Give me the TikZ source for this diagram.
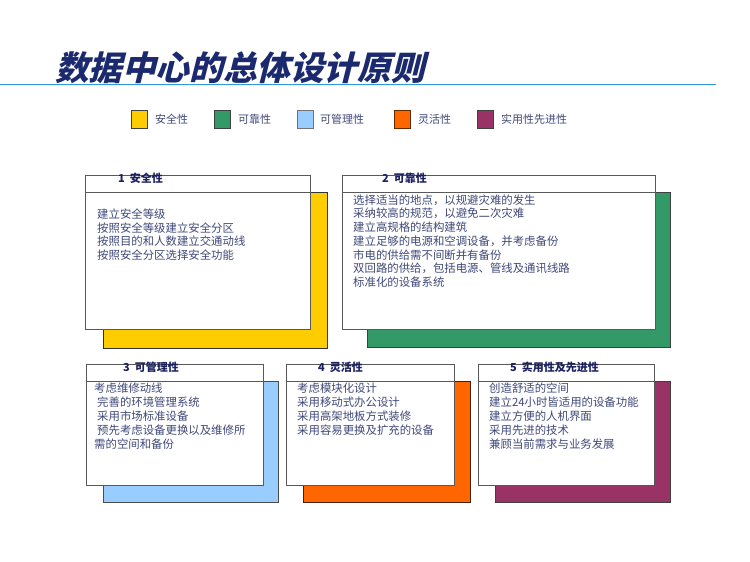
\documentclass[tikz,border=0pt]{standalone}
\usepackage{fontspec}
\newfontfamily\cjk{Noto Sans CJK SC}
\newfontfamily\titlefont[FakeSlant=0.25]{Noto Sans CJK SC}
\definecolor{titleblue}{HTML}{1B2A6E}
\definecolor{lineblue}{HTML}{2B9BD8}
\definecolor{bodytext}{HTML}{404878}
\definecolor{headtext}{HTML}{1A2060}
\definecolor{cyellow}{HTML}{FFCC00}
\definecolor{cgreen}{HTML}{339966}
\definecolor{cblue}{HTML}{99CCFF}
\definecolor{corange}{HTML}{FF6600}
\definecolor{cpurple}{HTML}{993366}
\tikzset{
  body/.style={anchor=west,inner sep=0pt,text=bodytext,font=\cjk\fontsize{11.4}{13}\selectfont},
  head/.style={anchor=west,inner sep=0pt,text=headtext,font=\cjk\bfseries\fontsize{11}{13}\selectfont},
  legtext/.style={anchor=west,inner sep=0pt,text=bodytext,font=\cjk\fontsize{11}{13}\selectfont},
  legbox/.style={draw=black!75,line width=0.9pt},
  whitebox/.style={draw=black!65,fill=white,line width=0.8pt},
  shadowbox/.style={line width=0.9pt},
}
\begin{document}
\begin{tikzpicture}[x=1pt,y=-1pt]
\useasboundingbox (0,0) rectangle (750,562);
% title
\node[anchor=west,inner sep=0pt,text=titleblue,font=\titlefont\bfseries\fontsize{33.6}{36}\selectfont] (title) at (55,67.5) {数据中心的总体设计原则};
\coordinate (tl1) at (0,84.3);
\coordinate (tl2) at (716,84.3);
\draw[lineblue,line width=1.4pt] (tl1) -- (tl2);
% legend
\draw[legbox,fill=cyellow] (131,110) rectangle (147,128);
\node[legtext] (lg1) at (155,119.5) {安全性};
\draw[legbox,fill=cgreen] (214,110) rectangle (230,128);
\node[legtext] (lg2) at (238,119.5) {可靠性};
\draw[legbox,fill=cblue,draw=black!55] (297,110) rectangle (313,128);
\node[legtext] (lg3) at (320,119.5) {可管理性};
\draw[legbox,fill=corange,draw=black!60!corange] (394,110) rectangle (410,128);
\node[legtext] (lg4) at (418,119.5) {灵活性};
\draw[legbox,fill=cpurple] (477,110) rectangle (493,128);
\node[legtext] (lg5) at (501,119.5) {实用性先进性};
% box 1
\draw[shadowbox,fill=cyellow,draw=black!80] (103,192) rectangle (327,348);
\draw[whitebox] (85,175) rectangle (310,329);
\draw[black!65,line width=0.8pt] (85,192) -- (310,192);
\node[head] (h1) at (118,178.5) {1\ \ 安全性};
\node[body] (b1a) at (97,214) {建立安全等级};
\node[body] (b1b) at (97,227.7) {按照安全等级建立安全分区};
\node[body] (b1c) at (97,241.4) {按照目的和人数建立交通动线};
\node[body] (b1d) at (97,255.1) {按照安全分区选择安全功能};
% box 2
\draw[shadowbox,fill=cgreen,draw=black!75] (367,192) rectangle (670,347);
\draw[whitebox] (342,175) rectangle (655,329);
\draw[black!65,line width=0.8pt] (342,192) -- (655,192);
\node[head] (h2) at (382,178.5) {2\ \ 可靠性};
\node[body] (b2a) at (353,200) {选择适当的地点，以规避灾难的发生};
\node[body] (b2b) at (353,213.7) {采纳较高的规范，以避免二次灾难};
\node[body] (b2c) at (353,227.4) {建立高规格的结构建筑};
\node[body] (b2d) at (353,241.1) {建立足够的电源和空调设备，并考虑备份};
\node[body] (b2e) at (353,254.8) {市电的供给需不间断并有备份};
\node[body] (b2f) at (353,268.5) {双回路的供给，包括电源、管线及通讯线路};
\node[body] (b2g) at (353,282.2) {标准化的设备系统};
% box 3
\draw[shadowbox,fill=cblue,draw=black!70] (103,381) rectangle (278,502);
\draw[whitebox] (86,364) rectangle (263,485);
\draw[black!65,line width=0.8pt] (86,381) -- (263,381);
\node[head] (h3) at (123,367.5) {3\ \ 可管理性};
\node[body] (b3a) at (94,388.5) {考虑维修动线};
\node[body] (b3b) at (97,402.5) {完善的环境管理系统};
\node[body] (b3c) at (97,416.5) {采用市场标准设备};
\node[body] (b3d) at (97,430.5) {预先考虑设备更换以及维修所};
\node[body] (b3e) at (94,444.5) {需的空间和备份};
% box 4
\draw[shadowbox,fill=corange,draw=black!70!corange] (303,381) rectangle (470,502);
\draw[whitebox] (286,364) rectangle (454,485);
\draw[black!65,line width=0.8pt] (286,381) -- (454,381);
\node[head] (h4) at (318,367.5) {4\ \ 灵活性};
\node[body] (b4a) at (297,388.5) {考虑模块化设计};
\node[body] (b4b) at (297,402.5) {采用移动式办公设计};
\node[body] (b4c) at (297,416.5) {采用高架地板方式装修};
\node[body] (b4d) at (297,430.5) {采用容易更换及扩充的设备};
% box 5
\draw[shadowbox,fill=cpurple,draw=black!75] (495,381) rectangle (670,502);
\draw[whitebox] (478,364) rectangle (654,485);
\draw[black!65,line width=0.8pt] (478,381) -- (654,381);
\node[head] (h5) at (510,367.5) {5\ \ 实用性及先进性};
\node[body] (b5a) at (489,388.5) {创造舒适的空间};
\node[body] (b5b) at (489,402.5) {建立24小时皆适用的设备功能};
\node[body] (b5c) at (489,416.5) {建立方便的人机界面};
\node[body] (b5d) at (489,430.5) {采用先进的技术};
\node[body] (b5e) at (489,444.5) {兼顾当前需求与业务发展};
\end{tikzpicture}
\end{document}
